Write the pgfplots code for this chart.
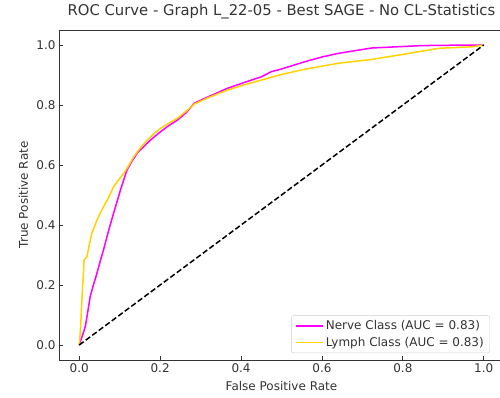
\documentclass[border=0pt]{standalone}
\usepackage{fontspec}
\setmainfont{DejaVu Sans}
\usepackage{pgfplots}
\pgfplotsset{compat=1.18}
\definecolor{txt}{HTML}{333333}
\definecolor{nerve}{HTML}{FF00FF}
\definecolor{lymph}{HTML}{FFD200}
\begin{document}
\begin{tikzpicture}
\begin{axis}[
  scale only axis,
  width=445pt, height=330pt,
  xmin=-0.05, xmax=1.05, ymin=-0.05, ymax=1.05,
  xtick={0,0.2,0.4,0.6,0.8,1.0},
  ytick={0,0.2,0.4,0.6,0.8,1.0},
  xticklabels={0.0,0.2,0.4,0.6,0.8,1.0},
  yticklabels={0.0,0.2,0.4,0.6,0.8,1.0},
  tick align=inside, tick pos=left,
  major tick length=4pt,
  axis line style={txt, line width=0.8pt},
  every tick/.style={txt, line width=0.8pt},
  ticklabel style={font=\fontsize{12}{14}\selectfont, text=txt},
  /pgf/number format/assume math mode=true,
  title={ROC Curve - Graph L\_22-05 - Best SAGE - No CL-Statistics},
  title style={at={(0.5,1)}, anchor=base, yshift=8pt, font=\fontsize{14.8}{16}\selectfont, text=txt, inner sep=0pt},
  xlabel={False Positive Rate},
  xlabel style={at={(0.5,0)}, anchor=base, yshift=-30pt, font=\fontsize{12}{14}\selectfont, text=txt, inner sep=0pt},
  ylabel={True Positive Rate},
  ylabel style={at={(axis description cs:0,0.5)}, anchor=base, yshift=31pt, font=\fontsize{12}{14}\selectfont, text=txt, inner sep=0pt},
  legend style={at={(0.9685,0.0212)}, anchor=south east, draw=black!18, rounded corners=2pt, fill=white,
    font=\fontsize{12}{14}\selectfont, text=txt, inner xsep=4pt, inner ysep=3pt, row sep=2pt},
  legend cell align=left,
  legend image code/.code={\draw[#1, line width=1.5pt] (0pt,0pt) -- (27pt,0pt);},
]
\coordinate (nw) at (rel axis cs:0,1);
\addplot[nerve, line width=1.5pt] coordinates {
(0,0) (0.007,0.028) (0.015,0.061) (0.021,0.11) (0.027,0.161) (0.035,0.2) (0.044,0.24) (0.052,0.28) (0.06,0.317) (0.073,0.383) (0.085,0.44) (0.094,0.48) (0.102,0.517) (0.118,0.583) (0.13,0.612) (0.143,0.639) (0.16,0.662) (0.176,0.683) (0.201,0.711) (0.22,0.73) (0.243,0.75) (0.265,0.775) (0.284,0.806) (0.32,0.828) (0.367,0.856) (0.41,0.876) (0.45,0.894) (0.475,0.911) (0.50,0.92) (0.557,0.944) (0.6,0.96) (0.64,0.972) (0.723,0.99) (0.8,0.995) (0.847,0.998) (0.9,0.999) (0.988,1.0) (1,1)
};
\addlegendentry{Nerve Class (AUC = 0.83)}
\addplot[lymph, line width=1.5pt] coordinates {
(0,0) (0.003,0.05) (0.007,0.16) (0.010,0.23) (0.012,0.283) (0.019,0.294) (0.025,0.335) (0.031,0.372) (0.044,0.417) (0.060,0.461) (0.072,0.49) (0.085,0.528) (0.100,0.555) (0.110,0.572) (0.123,0.60) (0.135,0.628) (0.150,0.655) (0.168,0.683) (0.185,0.705) (0.201,0.722) (0.22,0.738) (0.243,0.756) (0.265,0.78) (0.284,0.803) (0.32,0.825) (0.367,0.85) (0.41,0.868) (0.45,0.883) (0.50,0.902) (0.557,0.919) (0.64,0.939) (0.723,0.952) (0.806,0.97) (0.889,0.989) (0.971,0.994) (1,1)
};
\addlegendentry{Lymph Class (AUC = 0.83)}
\addplot[black, line width=1.5pt, dash pattern=on 5.5pt off 2.6pt, forget plot] coordinates {(0,0) (1,1)};
\end{axis}
\pgfresetboundingbox
\path[use as bounding box] (nw) ++(-59pt,30pt) rectangle ++(500pt,-397pt);
\end{tikzpicture}
\end{document}
